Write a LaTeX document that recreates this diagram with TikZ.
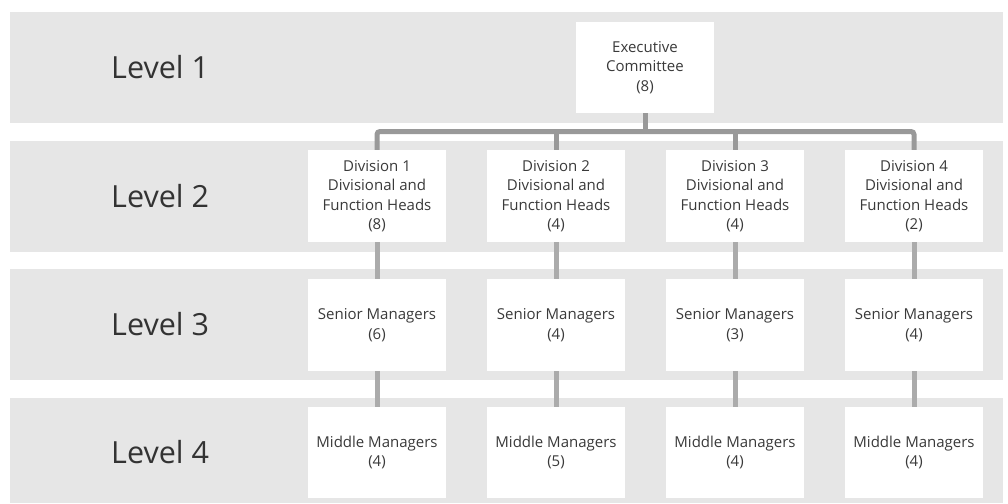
\documentclass[tikz,border=0pt]{standalone}
\usepackage{fontspec}
\setmainfont{Open Sans}
\definecolor{bandgray}{HTML}{E6E6E6}
\definecolor{busgray}{HTML}{999999}
\definecolor{linkgray}{HTML}{ABABAB}
\definecolor{textgray}{HTML}{3A3A3A}
\definecolor{labelgray}{HTML}{333333}
\begin{document}
\begin{tikzpicture}[x=1pt,y=-1pt,
  band/.style={fill=bandgray},
  unit/.style={fill=white, draw=none, inner sep=0pt,
    minimum width=138pt, minimum height=92pt, align=center,
    text=textgray, font=\fontsize{15}{19.4}\selectfont},
  lvl/.style={anchor=west, inner sep=0pt, text=labelgray,
    font=\fontsize{30.5}{36}\selectfont},
  bus/.style={draw=busgray, line width=5pt, rounded corners=3pt},
  link/.style={draw=linkgray, line width=5pt}]
\useasboundingbox (0,0) rectangle (1008,503);

% level bands
\fill[band] (10,12)  rectangle (1003,123);
\fill[band] (10,141) rectangle (1003,252);
\fill[band] (10,269) rectangle (1003,380);
\fill[band] (10,398) rectangle (1003,503);

% level labels
\node[lvl] (lv1) at (111,67.5)  {Level 1};
\node[lvl] (lv2) at (111,196.5) {Level 2};
\node[lvl] (lv3) at (111,324.5) {Level 3};
\node[lvl] (lv4) at (111,452)   {Level 4};

% level 1
\node[unit, minimum height=91pt] (exec) at (645,67.5) {Executive\\Committee\\(8)};

% level 2
\node[unit] (d1) at (377,196) {Division 1\\Divisional and\\Function Heads\\(8)};
\node[unit] (d2) at (556,196) {Division 2\\Divisional and\\Function Heads\\(4)};
\node[unit] (d3) at (735,196) {Division 3\\Divisional and\\Function Heads\\(4)};
\node[unit] (d4) at (914,196) {Division 4\\Divisional and\\Function Heads\\(2)};

% level 3
\node[unit] (s1) at (377,325) {Senior Managers\\(6)};
\node[unit] (s2) at (556,325) {Senior Managers\\(4)};
\node[unit] (s3) at (735,325) {Senior Managers\\(3)};
\node[unit] (s4) at (914,325) {Senior Managers\\(4)};

% level 4
\node[unit, minimum height=91pt] (m1) at (377,452.5) {Middle Managers\\(4)};
\node[unit, minimum height=91pt] (m2) at (556,452.5) {Middle Managers\\(5)};
\node[unit, minimum height=91pt] (m3) at (735,452.5) {Middle Managers\\(4)};
\node[unit, minimum height=91pt] (m4) at (914,452.5) {Middle Managers\\(4)};

% distribution bus from the committee to the divisions
\coordinate (hub) at (645,131.5);
\draw[bus] (exec.south) -- (hub);
\draw[bus] (d1.north) |- (hub) -| (d4.north);
\draw[bus] (d2.north) -- (d2.north |- hub);
\draw[bus] (d3.north) -- (d3.north |- hub);

% reporting lines down each division
\foreach \i in {1,2,3,4} {
  \draw[link] (d\i.south) -- (s\i.north);
  \draw[link] (s\i.south) -- (m\i.north);
}
\end{tikzpicture}
\end{document}
